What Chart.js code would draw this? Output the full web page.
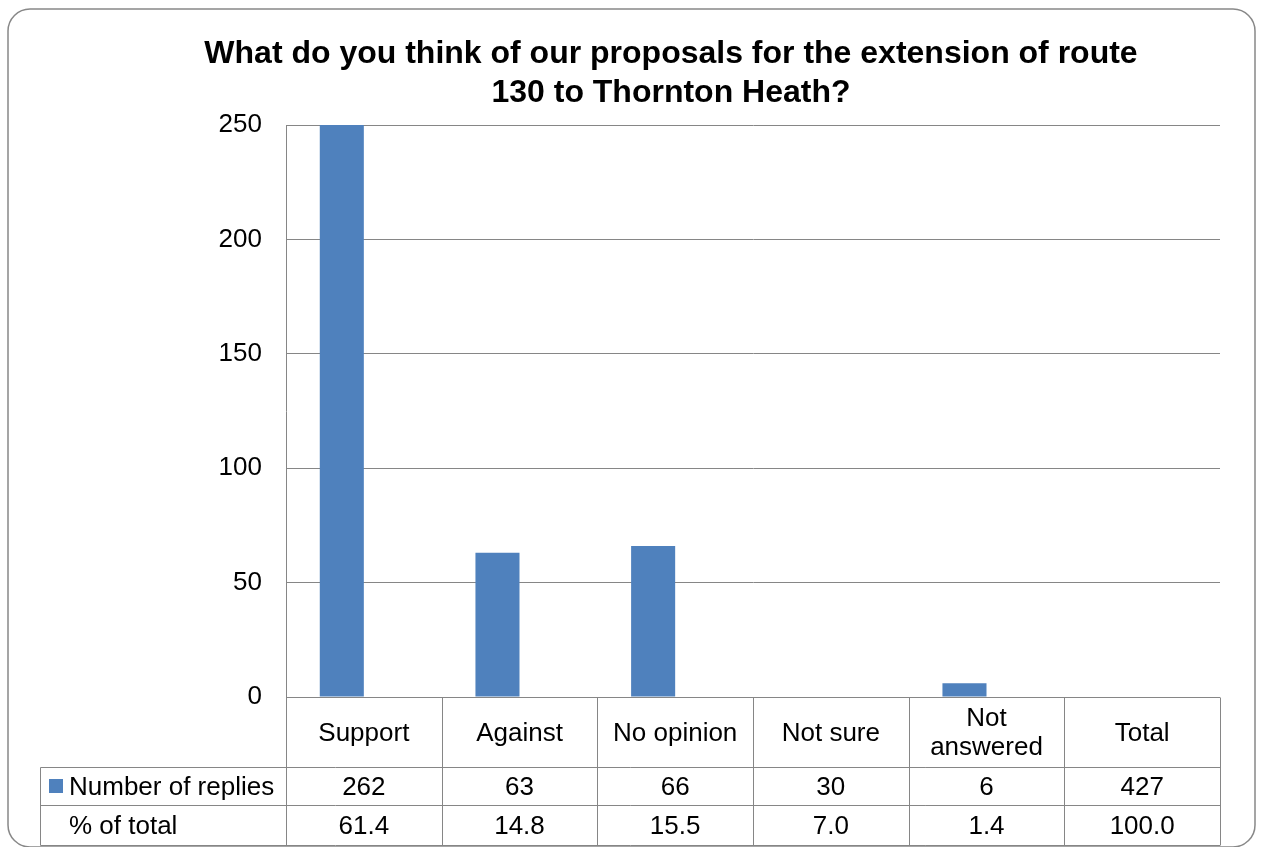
<!DOCTYPE html>
<html>
<head>
<meta charset="utf-8">
<script src="https://cdn.jsdelivr.net/npm/chart.js@4/dist/chart.umd.min.js"></script>
<style>
  html, body { margin: 0; padding: 0; background: #fff; }
  #wrap { width: 1268px; height: 847px; }
</style>
</head>
<body>
<div id="wrap"><canvas id="routeChart" width="1268" height="847"></canvas></div>
<script>
// Data
const categories = ['Support', 'Against', 'No opinion', 'Not sure', ['Not', 'answered'], 'Total'];
const replies = [262, 63, 66, 30, 6, 427];
const percentOfTotal = [61.4, 14.8, 15.5, 7.0, 1.4, 100.0];
// bars as they appear in the picture (Not sure and Total have no bar)
const barValues = [262, 63, 66, null, 6, null];
const yTicks = [0, 50, 100, 150, 200, 250];

const titleLines = ['What do you think of our proposals for the extension of route', '130 to Thornton Heath?'];
const seriesName = 'Number of replies';
const percentLabel = '% of total';

const FONT = '"Liberation Sans", Arial, sans-serif';
const LINE = '#868686';
const BLUE = '#4F81BD';

// frame, title and data table drawn around the plot
const decorPlugin = {
    id: 'decor',
    beforeDraw(chart) {
        const ctx = chart.ctx;
        ctx.save();
        ctx.fillStyle = '#fff';
        ctx.fillRect(0, 0, chart.width, chart.height);
        ctx.strokeStyle = '#888';
        ctx.lineWidth = 1.5;
        ctx.beginPath();
        ctx.roundRect(8, 9, 1247, 838, 22);
        ctx.stroke();
        ctx.restore();
    },
    afterDraw(chart) {
        const ctx = chart.ctx;
        const area = chart.chartArea;
        const x = chart.scales.x;
        const colW = (area.right - area.left) / categories.length;
        ctx.save();

        // title
        ctx.fillStyle = '#000';
        ctx.font = 'bold 32px ' + FONT;
        ctx.textAlign = 'center';
        ctx.textBaseline = 'middle';
        ctx.fillText(titleLines[0], 671, 54);
        ctx.fillText(titleLines[1], 671, 93);

        // table lines
        const rowTop = Math.round(area.bottom) + 0.5;
        const row1 = 767.5, row2 = 805.5, row3 = 845.5;
        const legendLeft = 40.5;
        ctx.strokeStyle = LINE;
        ctx.lineWidth = 1;
        ctx.beginPath();
        ctx.moveTo(area.left, rowTop); ctx.lineTo(area.right, rowTop);
        [row1, row2, row3].forEach(y => { ctx.moveTo(legendLeft, y); ctx.lineTo(area.right, y); });
        ctx.moveTo(legendLeft, row1); ctx.lineTo(legendLeft, row3);
        for (let i = 0; i <= categories.length; i++) {
            const cx = Math.round(area.left + colW * i) + 0.5;
            ctx.moveTo(cx, rowTop); ctx.lineTo(cx, row3);
        }
        ctx.stroke();

        // cell text
        ctx.font = '26px ' + FONT;
        ctx.fillStyle = '#000';
        categories.forEach((c, i) => {
            const cx = x.getPixelForValue(i);
            if (Array.isArray(c)) {
                ctx.fillText(c[0], cx, 719);
                ctx.fillText(c[1], cx, 748);
            } else {
                ctx.fillText(c, cx, 734);
            }
            ctx.fillText(String(replies[i]), cx, 788);
            ctx.fillText(percentOfTotal[i].toFixed(1), cx, 827);
        });

        // row headers
        ctx.textAlign = 'left';
        ctx.fillStyle = BLUE;
        ctx.fillRect(49, 779, 14, 14);
        ctx.fillStyle = '#000';
        ctx.fillText(seriesName, 69, 788);
        ctx.fillText(percentLabel, 69, 827);
        ctx.restore();
    }
};

const chartCtx = document.getElementById('routeChart').getContext('2d');
const routeChart = new Chart(chartCtx, {
    type: 'bar',
    data: {
        labels: categories,
        datasets: [{
            label: seriesName,
            data: barValues,
            backgroundColor: BLUE,
            borderWidth: 0,
            barPercentage: 1,
            categoryPercentage: 0.566
        }, {
            // second series has no fill in the original, it only takes its slot
            label: percentLabel,
            data: percentOfTotal,
            backgroundColor: 'rgba(0,0,0,0)',
            borderWidth: 0,
            barPercentage: 1,
            categoryPercentage: 0.566
        }]
    },
    options: {
        responsive: false,
        animation: false,
        layout: {
            padding: { left: 0, top: 125, right: 48, bottom: 150 }
        },
        plugins: {
            legend: { display: false },
            title: { display: false },
            tooltip: { enabled: false }
        },
        scales: {
            x: {
                display: true,
                ticks: { display: false },
                grid: { display: false, drawTicks: false },
                border: { display: false }
            },
            y: {
                min: 0,
                max: 250,
                afterBuildTicks(axis) {
                    axis.ticks = yTicks.map(v => ({ value: v }));
                },
                afterFit(axis) {
                    axis.width = 286;
                },
                ticks: {
                    padding: 24,
                    color: '#000',
                    font: { family: FONT, size: 26 }
                },
                grid: { color: LINE, lineWidth: 1, drawTicks: false },
                border: { display: true, color: LINE, width: 1 }
            }
        }
    },
    plugins: [decorPlugin]
});
</script>
</body>
</html>
